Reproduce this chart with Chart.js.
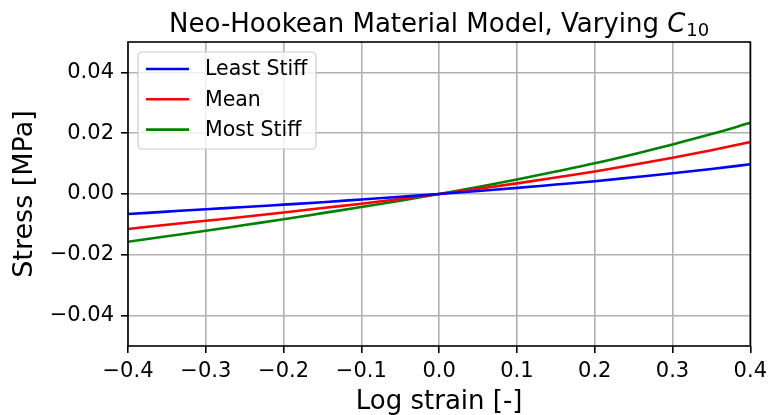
<!DOCTYPE html>
<html>
<head>
<meta charset="utf-8">
<script src="https://cdn.jsdelivr.net/npm/chart.js@4"></script>
<style>
  html, body { margin: 0; padding: 0; background: #ffffff; }
  #wrap { position: relative; width: 773px; height: 415px; }
</style>
</head>
<body>
<div id="wrap"><canvas id="c" width="773" height="415"></canvas></div>
<script>
// Log strain samples
const strain = [-0.4, -0.35, -0.3, -0.25, -0.2, -0.15, -0.1, -0.05, 0,
                0.05, 0.1, 0.15, 0.2, 0.25, 0.3, 0.35, 0.4];

// Stress [MPa] for each C10 case
const leastStiff = [-0.0066, -0.0058, -0.0050, -0.0043, -0.0035, -0.0027, -0.0018, -0.0009, 0,
                    0.0010, 0.0020, 0.0031, 0.0042, 0.0055, 0.0068, 0.0082, 0.0098];
const meanStiff  = [-0.0115, -0.0101, -0.0088, -0.0075, -0.0061, -0.0046, -0.0032, -0.0016, 0,
                    0.0017, 0.0035, 0.0054, 0.0074, 0.0096, 0.0119, 0.0144, 0.0171];
const mostStiff  = [-0.0157, -0.0139, -0.0121, -0.0102, -0.0083, -0.0063, -0.0043, -0.0022, 0,
                    0.0023, 0.0048, 0.0074, 0.0101, 0.0131, 0.0163, 0.0197, 0.0234];

const seriesNames = ['Least Stiff', 'Mean', 'Most Stiff'];
const xTicks = [-0.4, -0.3, -0.2, -0.1, 0, 0.1, 0.2, 0.3, 0.4];
const yTicks = [-0.04, -0.02, 0, 0.02, 0.04];

const FONT = "'DejaVu Sans', 'Liberation Sans', sans-serif";
const fmtMinus = (v, d) => (v < -1e-12 ? '\u2212' : '') + Math.abs(v).toFixed(d);

function toPoints(ys) { return strain.map((x, i) => ({ x: x, y: ys[i] })); }

// Title with italic C and subscript 10
const titlePlugin = {
  id: 'mathTitle',
  afterDraw(chart) {
    const ctx = chart.ctx;
    const area = chart.chartArea;
    const size = 26;
    const subSize = Math.round(size * 0.7);
    const main = 'Neo-Hookean Material Model, Varying ';
    ctx.save();
    ctx.fillStyle = '#000';
    ctx.textBaseline = 'alphabetic';
    ctx.font = size + 'px ' + FONT;
    const w1 = ctx.measureText(main).width;
    ctx.font = 'italic ' + size + 'px ' + FONT;
    const w2 = ctx.measureText('C').width;
    ctx.font = subSize + 'px ' + FONT;
    const w3 = ctx.measureText('10').width;
    const total = w1 + w2 + w3 + 1;
    let x = (area.left + area.right) / 2 - total / 2;
    const base = 31.5;
    ctx.textAlign = 'left';
    ctx.font = size + 'px ' + FONT;
    ctx.fillText(main, x, base);
    x += w1;
    ctx.font = 'italic ' + size + 'px ' + FONT;
    ctx.fillText('C', x, base);
    x += w2 + 1;
    ctx.font = subSize + 'px ' + FONT;
    ctx.fillText('10', x, base + 4);
    ctx.restore();
  }
};

// Black frame around the plotting area
const framePlugin = {
  id: 'frame',
  afterDatasetsDraw(chart) {
    const a = chart.chartArea;
    const ctx = chart.ctx;
    ctx.save();
    ctx.strokeStyle = '#000';
    ctx.lineWidth = 1.6;
    ctx.strokeRect(a.left, a.top, a.right - a.left, a.bottom - a.top);
    ctx.restore();
  }
};

// Legend box in the upper-left corner of the plot
const legendPlugin = {
  id: 'boxLegend',
  afterDraw(chart) {
    const ctx = chart.ctx;
    const a = chart.chartArea;
    const x0 = a.left + 10, y0 = a.top + 10, w = 178, h = 97, r = 4;
    ctx.save();
    ctx.beginPath();
    ctx.moveTo(x0 + r, y0);
    ctx.lineTo(x0 + w - r, y0);
    ctx.arcTo(x0 + w, y0, x0 + w, y0 + r, r);
    ctx.lineTo(x0 + w, y0 + h - r);
    ctx.arcTo(x0 + w, y0 + h, x0 + w - r, y0 + h, r);
    ctx.lineTo(x0 + r, y0 + h);
    ctx.arcTo(x0, y0 + h, x0, y0 + h - r, r);
    ctx.lineTo(x0, y0 + r);
    ctx.arcTo(x0, y0, x0 + r, y0, r);
    ctx.closePath();
    ctx.fillStyle = 'rgba(255,255,255,0.8)';
    ctx.fill();
    ctx.strokeStyle = '#cccccc';
    ctx.lineWidth = 1.2;
    ctx.stroke();
    ctx.font = '20.5px ' + FONT;
    ctx.textBaseline = 'middle';
    ctx.textAlign = 'left';
    chart.data.datasets.forEach((ds, i) => {
      const yy = y0 + 17 + i * 30.3;
      ctx.beginPath();
      ctx.moveTo(x0 + 8, yy);
      ctx.lineTo(x0 + 51, yy);
      ctx.strokeStyle = ds.borderColor;
      ctx.lineWidth = 2.6;
      ctx.stroke();
      ctx.fillStyle = '#000';
      ctx.fillText(ds.label, x0 + 67, yy + 1);
    });
    ctx.restore();
  }
};

const gridColor = '#b0b0b0';

new Chart(document.getElementById('c'), {
  type: 'line',
  data: {
    datasets: [
      { label: seriesNames[0], data: toPoints(leastStiff), borderColor: '#0000ff' },
      { label: seriesNames[1], data: toPoints(meanStiff),  borderColor: '#ff0000' },
      { label: seriesNames[2], data: toPoints(mostStiff),  borderColor: '#008000' }
    ].map(d => Object.assign(d, {
      borderWidth: 2.6, pointRadius: 0, fill: false, cubicInterpolationMode: 'monotone'
    }))
  },
  options: {
    responsive: false,
    animation: false,
    devicePixelRatio: 1,
    layout: { padding: { left: 0, right: 19, top: 42, bottom: 0 } },
    plugins: { legend: { display: false }, title: { display: false }, tooltip: { enabled: false } },
    scales: {
      x: {
        type: 'linear',
        min: -0.4, max: 0.4,
        afterBuildTicks: s => { s.ticks = xTicks.map(v => ({ value: v })); },
        afterFit: s => { s.height = 69; },
        grid: { color: gridColor, lineWidth: 1.6, tickColor: '#000', tickLength: 7, tickWidth: 1.6 },
        border: { display: false },
        ticks: {
          color: '#000', padding: 6, maxRotation: 0, autoSkip: false,
          font: { family: FONT, size: 21 },
          callback: v => fmtMinus(v, 1)
        },
        title: {
          display: true, text: 'Log strain [-]', color: '#000',
          font: { family: FONT, size: 26, lineHeight: 1.0 }, padding: { top: 0, bottom: 0 }
        }
      },
      y: {
        type: 'linear',
        min: -0.05, max: 0.05,
        afterBuildTicks: s => { s.ticks = yTicks.map(v => ({ value: v })); },
        afterFit: s => { s.width = 128; },
        grid: { color: gridColor, lineWidth: 1.6, tickColor: '#000', tickLength: 7, tickWidth: 1.6 },
        border: { display: false },
        ticks: {
          color: '#000', padding: 7, autoSkip: false,
          font: { family: FONT, size: 21 },
          callback: v => fmtMinus(v, 2)
        },
        title: {
          display: true, text: 'Stress [MPa]', color: '#000',
          font: { family: FONT, size: 27, lineHeight: 1.0 }, padding: { top: 11.5, bottom: 0 }
        }
      }
    }
  },
  plugins: [framePlugin, legendPlugin, titlePlugin]
});
</script>
</body>
</html>
